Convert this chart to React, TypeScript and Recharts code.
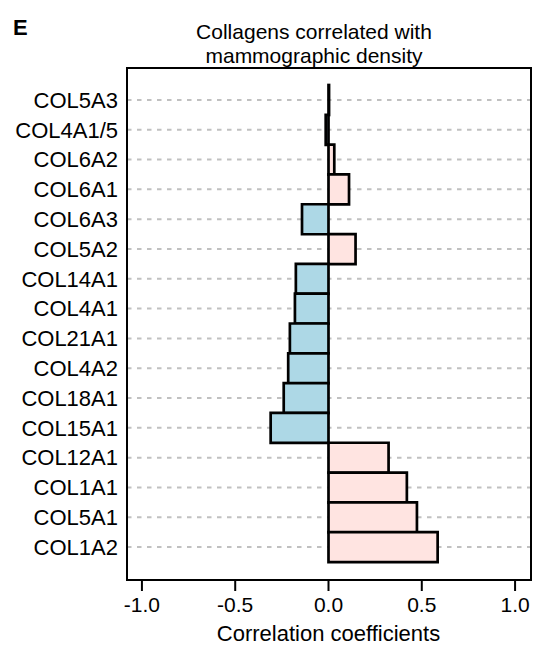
import React from 'react';
import { BarChart, Bar, XAxis, YAxis, Cell, ReferenceLine } from 'recharts';

const categories = ['COL5A3', 'COL4A1/5', 'COL6A2', 'COL6A1', 'COL6A3', 'COL5A2', 'COL14A1', 'COL4A1', 'COL21A1', 'COL4A2', 'COL18A1', 'COL15A1', 'COL12A1', 'COL1A1', 'COL5A1', 'COL1A2'];
const correlations = [0.003, -0.015, 0.031, 0.11, -0.142, 0.145, -0.175, -0.18, -0.207, -0.216, -0.24, -0.31, 0.322, 0.42, 0.474, 0.585];
const xTicks = [-1, -0.5, 0, 0.5, 1];
const xDomain = [-1.08, 1.08];

const data = categories.map((name, i) => ({ name, value: correlations[i] }));

const FONT = '"Liberation Sans", Arial, Helvetica, sans-serif';

export default function App() {
  return (
    <div style={{ position: 'absolute', left: 0, top: 0, width: 539, height: 646, background: '#fff', fontFamily: FONT }}>
      <div style={{ position: 'absolute', left: 13, top: 15, fontSize: 22, fontWeight: 'bold', lineHeight: '26px', color: '#000' }}>E</div>
      <div style={{ position: 'absolute', left: 114, top: 20, width: 400, textAlign: 'center', fontSize: 21, lineHeight: '23.5px', color: '#000' }}>
        Collagens correlated with<br />mammographic density
      </div>
      <BarChart
        width={539}
        height={646}
        data={data}
        layout="vertical"
        margin={{ top: 68, right: 9, left: 0, bottom: 0 }}
        barCategoryGap={0}
        barGap={0}
        style={{ position: 'absolute', left: 0, top: 0 }}
      >
        <XAxis
          type="number"
          domain={xDomain}
          ticks={xTicks}
          allowDataOverflow
          height={67}
          axisLine={false}
          tickLine={{ stroke: '#000', strokeWidth: 2 }}
          tickSize={12}
          tickMargin={6}
          tick={{ fill: '#000', fontSize: 21, fontFamily: FONT }}
          tickFormatter={(v: number) => v.toFixed(1)}
          label={{ value: 'Correlation coefficients', position: 'insideBottom', offset: 5, fill: '#000', fontSize: 22, fontFamily: FONT }}
        />
        <YAxis
          type="category"
          dataKey="name"
          width={127}
          axisLine={false}
          tickLine={false}
          tickSize={6}
          tickMargin={3}
          interval={0}
          padding={{ top: 17, bottom: 17 }}
          tick={{ fill: '#000', fontSize: 22, fontFamily: FONT }}
        />
        {categories.map((c) => (
          <ReferenceLine key={c} y={c} stroke="#c0c0c0" strokeWidth={2} strokeDasharray="4.5 5.5" zIndex={-100} />
        ))}
        <Bar dataKey="value" stroke="#000" strokeWidth={2.7} isAnimationActive={false}>
          {data.map((d, i) => (
            <Cell key={i} fill={d.value < 0 ? '#ADD8E6' : '#FFE4E1'} />
          ))}
        </Bar>
      </BarChart>
      <div style={{ position: 'absolute', left: 126, top: 67, width: 402, height: 510, border: '2px solid #000', pointerEvents: 'none' }} />
    </div>
  );
}
